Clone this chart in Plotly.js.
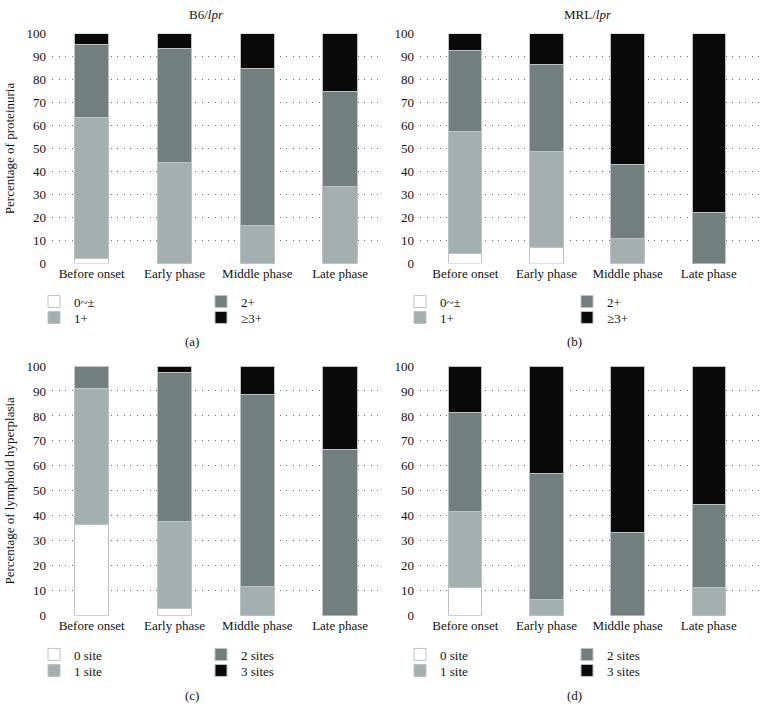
<!DOCTYPE html>
<html>
<head>
<meta charset="utf-8">
<script src="https://cdn.plot.ly/plotly-3.0.1.min.js"></script>
<style>html,body{margin:0;padding:0;background:#fff;}#chart{width:761px;height:722px;}</style>
</head>
<body>
<div id="chart"></div>
<script>
// ---- data ----
const categories = ['Before onset', 'Early phase', 'Middle phase', 'Late phase'];

// (a) B6/lpr proteinuria (%)
const a_p0 = [2.0, 0, 0, 0];
const a_p1 = [61.5, 44.1, 16.7, 33.3];
const a_p2 = [31.6, 49.4, 68.2, 41.7];
const a_p3 = [4.9, 6.5, 15.1, 25.0];

// (b) MRL/lpr proteinuria (%)
const b_p0 = [4.3, 7.1, 0, 0];
const b_p1 = [53.2, 41.5, 10.7, 0];
const b_p2 = [35.2, 38.0, 32.2, 22.2];
const b_p3 = [7.3, 13.4, 57.1, 77.8];

// (c) B6/lpr lymphoid hyperplasia (%)
const c_s0 = [36.7, 2.7, 0, 0];
const c_s1 = [54.1, 35.0, 11.6, 0];
const c_s2 = [9.2, 59.6, 76.9, 66.7];
const c_s3 = [0, 2.7, 11.5, 33.3];

// (d) MRL/lpr lymphoid hyperplasia (%)
const d_s0 = [11.3, 0, 0, 0];
const d_s1 = [30.5, 6.4, 0, 11.1];
const d_s2 = [39.5, 50.7, 33.3, 33.3];
const d_s3 = [18.7, 42.9, 66.7, 55.6];

const proteinLabels = ['0~±', '1+', '2+', '≥3+'];
const siteLabels = ['0 site', '1 site', '2 sites', '3 sites'];
const yTicks = [0, 10, 20, 30, 40, 50, 60, 70, 80, 90, 100];

// ---- styling ----
const W = 761, H = 722;
const colors = ['#ffffff', '#a3b0af', '#71807e', '#0a0a0a'];
const outline = '#bcc3c2';
const font = '"Liberation Serif", "DejaVu Serif", serif';
const txt = '#111111';

function px(x) { return x / W; }
function py(y) { return 1 - y / H; }

// legends: row 1 holds series 0 and 2, row 2 holds series 1 and 3
const panels = [
  {xa: 'x', ya: 'y', series: [a_p0, a_p1, a_p2, a_p3], names: proteinLabels, legs: ['legend', 'legend2'], width: 0.417},
  {xa: 'x2', ya: 'y2', series: [b_p0, b_p1, b_p2, b_p3], names: proteinLabels, legs: ['legend3', 'legend4'], width: 0.41},
  {xa: 'x3', ya: 'y3', series: [c_s0, c_s1, c_s2, c_s3], names: siteLabels, legs: ['legend5', 'legend6'], width: 0.417},
  {xa: 'x4', ya: 'y4', series: [d_s0, d_s1, d_s2, d_s3], names: siteLabels, legs: ['legend7', 'legend8'], width: 0.41}
];

const traces = [];
panels.forEach(p => {
  p.series.forEach((vals, i) => {
    traces.push({
      type: 'bar', x: categories, y: vals, name: p.names[i],
      xaxis: p.xa, yaxis: p.ya, width: p.width,
      legend: (i % 2 === 0) ? p.legs[0] : p.legs[1],
      marker: {color: colors[i], line: {color: outline, width: 1}},
      hoverinfo: 'x+y+name'
    });
  });
});

function xaxis(domain, range, anchor) {
  return {
    domain: domain, range: range, anchor: anchor, type: 'category',
    showgrid: false, zeroline: false, showline: false, ticks: '',
    tickfont: {family: font, size: 13, color: txt}, fixedrange: true
  };
}
function yaxis(domain, anchor, title) {
  const ax = {
    domain: domain, range: [0, 100], anchor: anchor,
    tickvals: yTicks, ticks: '', ticklabelstandoff: 5,
    showgrid: true, gridcolor: '#6f6f6f', gridwidth: 1, griddash: '1.3px,5.2px',
    zeroline: false, showline: false,
    tickfont: {family: font, size: 13, color: txt}, fixedrange: true
  };
  if (title) ax.title = {text: title, font: {family: font, size: 13, color: txt}, standoff: 8};
  return ax;
}

const xA = [px(52), px(383)], xB = [px(420), px(759)];
const yTop = [py(263.5), py(33.5)], yBot = [py(615.7), py(366)];
const rA = [-0.479, 3.518], rB = [-0.559, 3.62];

function legend(xpx, ypx) {
  return {
    x: px(xpx), y: py(ypx), xanchor: 'left', yanchor: 'top',
    orientation: 'h', entrywidth: 122, entrywidthmode: 'pixels',
    traceorder: 'normal',
    bgcolor: 'rgba(0,0,0,0)', borderwidth: 0,
    font: {family: font, size: 13, color: txt},
    itemclick: false, itemdoubleclick: false
  };
}

const layout = {
  width: W, height: H,
  margin: {l: 0, r: 0, t: 0, b: 0},
  paper_bgcolor: '#ffffff', plot_bgcolor: '#ffffff',
  barmode: 'stack', showlegend: true,
  xaxis: xaxis(xA, rA, 'y'),
  yaxis: yaxis(yTop, 'x', 'Percentage of proteinuria'),
  xaxis2: xaxis(xB, rB, 'y2'),
  yaxis2: yaxis(yTop, 'x2', null),
  xaxis3: xaxis(xA, rA, 'y3'),
  yaxis3: yaxis(yBot, 'x3', 'Percentage of lymphoid hyperplasia'),
  xaxis4: xaxis(xB, rB, 'y4'),
  yaxis4: yaxis(yBot, 'x4', null),
  legend: legend(34, 286.5),
  legend2: legend(34, 302.5),
  legend3: legend(400, 286.5),
  legend4: legend(400, 302.5),
  legend5: legend(34, 639.5),
  legend6: legend(34, 655.5),
  legend7: legend(400, 639.5),
  legend8: legend(400, 655.5),
  annotations: [
    {text: 'B6/<i>lpr</i>', x: px(207), y: py(14), xref: 'paper', yref: 'paper', showarrow: false, xanchor: 'center', yanchor: 'middle', font: {family: font, size: 13, color: txt}},
    {text: 'MRL/<i>lpr</i>', x: px(588), y: py(14), xref: 'paper', yref: 'paper', showarrow: false, xanchor: 'center', yanchor: 'middle', font: {family: font, size: 13, color: txt}},
    {text: '(a)', x: px(192), y: py(341), xref: 'paper', yref: 'paper', showarrow: false, xanchor: 'center', yanchor: 'middle', font: {family: font, size: 13, color: txt}},
    {text: '(b)', x: px(574), y: py(341), xref: 'paper', yref: 'paper', showarrow: false, xanchor: 'center', yanchor: 'middle', font: {family: font, size: 13, color: txt}},
    {text: '(c)', x: px(192), y: py(695), xref: 'paper', yref: 'paper', showarrow: false, xanchor: 'center', yanchor: 'middle', font: {family: font, size: 13, color: txt}},
    {text: '(d)', x: px(574), y: py(695), xref: 'paper', yref: 'paper', showarrow: false, xanchor: 'center', yanchor: 'middle', font: {family: font, size: 13, color: txt}}
  ]
};

Plotly.newPlot('chart', traces, layout, {displayModeBar: false, responsive: false});
</script>
</body>
</html>
